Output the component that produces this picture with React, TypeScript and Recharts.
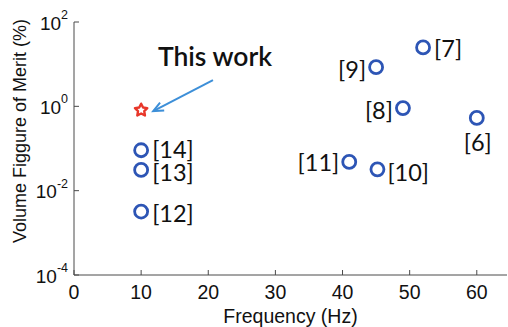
import { ScatterChart, Scatter, XAxis, YAxis, ReferenceLine, ReferenceDot } from 'recharts';

// reference designs: frequency (Hz) vs volume figure of merit (%)
const refLabels = ['[6]', '[7]', '[8]', '[9]', '[10]', '[11]', '[12]', '[13]', '[14]'];
const refFreqs = [60, 52, 49, 45, 45.2, 41, 10, 10, 10];
const refFoms = [0.53, 25, 0.91, 8.5, 0.032, 0.048, 0.0032, 0.031, 0.091];

// this work
const thisFreqs = [10];
const thisFoms = [0.81];

const xTicks = [0, 10, 20, 30, 40, 50, 60];
const yTicks = [1e-4, 1e-2, 1, 1e2];
const yExponents = ['-4', '-2', '0', '2'];

const AXIS = '#4a4a4a';
const BLUE = '#2d55b5';
const RED = '#e8372a';
const ARROW = '#3d8fd8';
const SANS = '"Liberation Sans", Arial, sans-serif';
const CAL = 'Lato, "Open Sans", sans-serif';

// where each reference label sits relative to its marker
const labelPlacement: Record<string, { dx: number; dy: number; anchor: string }> = {
  '[6]': { dx: 1, dy: 24, anchor: 'middle' },
  '[7]': { dx: 11, dy: 1, anchor: 'start' },
  '[8]': { dx: -10, dy: 2, anchor: 'end' },
  '[9]': { dx: -10, dy: 2, anchor: 'end' },
  '[10]': { dx: 10, dy: 3, anchor: 'start' },
  '[11]': { dx: -10, dy: 0, anchor: 'end' },
  '[12]': { dx: 11, dy: 1, anchor: 'start' },
  '[13]': { dx: 11, dy: 2, anchor: 'start' },
  '[14]': { dx: 11, dy: -1, anchor: 'start' },
};

const refData = refLabels.map((label, i) => ({ f: refFreqs[i], fom: refFoms[i], label }));
const thisData = thisFreqs.map((f, i) => ({ f, fom: thisFoms[i] }));

const RefPoint = (props: any) => {
  const { cx, cy, payload } = props;
  const pl = labelPlacement[payload.label];
  return (
    <g>
      <circle cx={cx} cy={cy} r={6.5} fill="none" stroke={BLUE} strokeWidth={2.8} />
      <text
        x={cx + pl.dx}
        y={cy + pl.dy}
        textAnchor={pl.anchor}
        dominantBaseline="central"
        fontSize={23.5}
        fontFamily={CAL}
        fill="#111"
      >
        {payload.label}
      </text>
    </g>
  );
};

const StarPoint = (props: any) => {
  const { cx, cy } = props;
  const pts: string[] = [];
  for (let k = 0; k < 10; k++) {
    const r = k % 2 === 0 ? 6.5 : 3.3;
    const a = -Math.PI / 2 + (k * Math.PI) / 5;
    pts.push(`${cx + r * Math.cos(a)},${cy + r * Math.sin(a)}`);
  }
  return <polygon points={pts.join(' ')} fill="#fff" stroke={RED} strokeWidth={2.4} strokeLinejoin="round" />;
};

const YTick = (props: any) => {
  const { x, y, payload } = props;
  const i = yTicks.indexOf(payload.value);
  return (
    <text x={x} y={y + 1} textAnchor="end" dominantBaseline="central" fontSize={19} fontFamily={SANS} fill="#111">
      10
      <tspan dy={-8} fontSize={12.5}>
        {yExponents[i]}
      </tspan>
    </text>
  );
};

const Arrow = (props: any) => {
  const { x1, y1, x2, y2 } = props;
  const ang = Math.atan2(y2 - y1, x2 - x1);
  const len = 11;
  const spread = 0.42;
  const p1 = `${x2 - len * Math.cos(ang - spread)},${y2 - len * Math.sin(ang - spread)}`;
  const p2 = `${x2 - len * Math.cos(ang + spread)},${y2 - len * Math.sin(ang + spread)}`;
  return (
    <g>
      <line x1={x1} y1={y1} x2={x2} y2={y2} stroke={ARROW} strokeWidth={2} />
      <polyline points={`${p1} ${x2},${y2} ${p2}`} fill="none" stroke={ARROW} strokeWidth={2} />
    </g>
  );
};

const TextMark = (props: any) => (
  <text x={props.cx} y={props.cy} textAnchor="middle" dominantBaseline="central" fontSize={26.5} fontFamily={CAL} fontWeight={600} fill="#111">
    This work
  </text>
);

const YLabel = () => (
  <text
    x={20}
    y={131}
    transform="rotate(-90 20 131)"
    textAnchor="middle"
    dominantBaseline="central"
    fontSize={18}
    fontFamily={SANS}
    fill="#111"
  >
    Volume Figgure of Merit (%)
  </text>
);

export default function App() {
  return (
    <div style={{ position: 'absolute', left: 0, top: 0, background: '#fff' }}>
      <ScatterChart width={508} height={327} margin={{ top: 22, right: 1, bottom: 0, left: 8 }}>
        <XAxis
          dataKey="f"
          type="number"
          domain={[0, 64.5]}
          ticks={xTicks}
          height={52}
          tickSize={-5}
          tickMargin={15}
          stroke={AXIS}
          tick={{ fontSize: 19.5, fill: '#111', fontFamily: SANS }}
          label={{ value: 'Frequency (Hz)', position: 'insideBottom', offset: 4, fontSize: 19.5, fill: '#111', fontFamily: SANS }}
        />
        <XAxis
          xAxisId="top"
          orientation="top"
          type="number"
          domain={[0, 64.5]}
          ticks={xTicks}
          height={0}
          tickSize={-5}
          tick={false}
          stroke={AXIS}
        />
        <YAxis
          dataKey="fom"
          type="number"
          scale="log"
          domain={[1e-4, 1e2]}
          ticks={yTicks}
          width={66}
          tickSize={-5}
          tickMargin={11}
          stroke={AXIS}
          tick={<YTick />}
          label={{ content: () => <YLabel /> }}
        />
        <YAxis
          yAxisId="right"
          orientation="right"
          type="number"
          scale="log"
          domain={[1e-4, 1e2]}
          ticks={yTicks}
          width={0}
          tickSize={-5}
          tick={false}
          stroke={AXIS}
        />
        <Scatter data={refData} shape={<RefPoint />} isAnimationActive={false} />
        <Scatter data={thisData} shape={<StarPoint />} isAnimationActive={false} />
        <ReferenceLine
          segment={[
            { x: 20.7, y: 4.2 },
            { x: 11.8, y: 0.77 },
          ]}
          shape={<Arrow />}
        />
        <ReferenceDot x={21} y={15.6} r={0} shape={<TextMark />} />
      </ScatterChart>
    </div>
  );
}
